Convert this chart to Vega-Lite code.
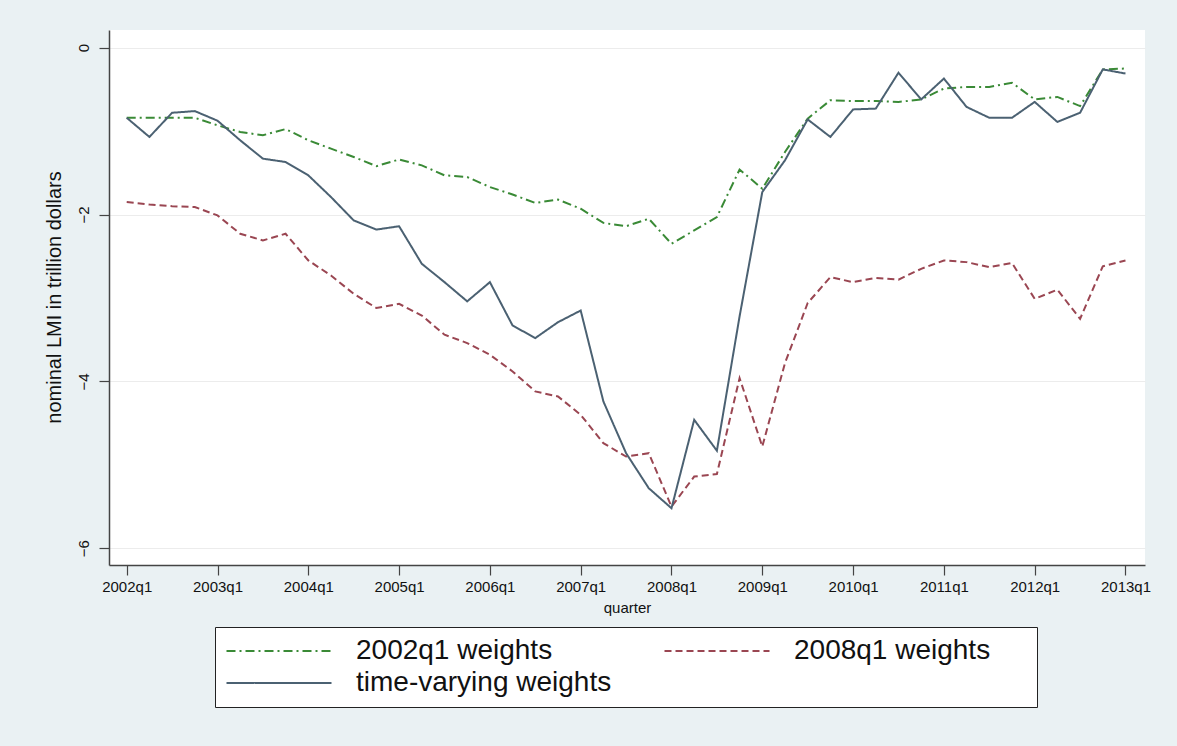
{
  "$schema": "https://vega.github.io/schema/vega-lite/v6.json",
  "autosize": {"type": "none"},
  "padding": {"left": 109, "top": 30, "right": 32, "bottom": 181},
  "width": 1036,
  "height": 535,
  "background": "#eaf1f3",
  "config": {
    "font": "Liberation Sans",
    "view": {"fill": "white", "stroke": null},
    "axis": {"domainColor": "#444444", "tickColor": "#444444", "domainWidth": 1.5, "tickWidth": 1.2, "labelColor": "#111111", "titleColor": "#111111", "labelFont": "Liberation Sans", "titleFont": "Liberation Sans", "titleFontWeight": "normal"}
  },
  "datasets": {
    "lmi": [
      {"q":0,"s":"2002q1 weights","v":-0.84},{"q":1,"s":"2002q1 weights","v":-0.84},{"q":2,"s":"2002q1 weights","v":-0.84},{"q":3,"s":"2002q1 weights","v":-0.84},{"q":4,"s":"2002q1 weights","v":-0.93},{"q":5,"s":"2002q1 weights","v":-1.01},{"q":6,"s":"2002q1 weights","v":-1.05},{"q":7,"s":"2002q1 weights","v":-0.975},{"q":8,"s":"2002q1 weights","v":-1.11},{"q":9,"s":"2002q1 weights","v":-1.21},{"q":10,"s":"2002q1 weights","v":-1.31},{"q":11,"s":"2002q1 weights","v":-1.42},{"q":12,"s":"2002q1 weights","v":-1.34},{"q":13,"s":"2002q1 weights","v":-1.41},{"q":14,"s":"2002q1 weights","v":-1.53},{"q":15,"s":"2002q1 weights","v":-1.55},{"q":16,"s":"2002q1 weights","v":-1.67},{"q":17,"s":"2002q1 weights","v":-1.76},{"q":18,"s":"2002q1 weights","v":-1.86},{"q":19,"s":"2002q1 weights","v":-1.82},{"q":20,"s":"2002q1 weights","v":-1.93},{"q":21,"s":"2002q1 weights","v":-2.10},{"q":22,"s":"2002q1 weights","v":-2.14},{"q":23,"s":"2002q1 weights","v":-2.05},{"q":24,"s":"2002q1 weights","v":-2.35},{"q":25,"s":"2002q1 weights","v":-2.19},{"q":26,"s":"2002q1 weights","v":-2.03},{"q":27,"s":"2002q1 weights","v":-1.46},{"q":28,"s":"2002q1 weights","v":-1.69},{"q":29,"s":"2002q1 weights","v":-1.25},{"q":30,"s":"2002q1 weights","v":-0.85},{"q":31,"s":"2002q1 weights","v":-0.63},{"q":32,"s":"2002q1 weights","v":-0.64},{"q":33,"s":"2002q1 weights","v":-0.64},{"q":34,"s":"2002q1 weights","v":-0.65},{"q":35,"s":"2002q1 weights","v":-0.62},{"q":36,"s":"2002q1 weights","v":-0.49},{"q":37,"s":"2002q1 weights","v":-0.47},{"q":38,"s":"2002q1 weights","v":-0.47},{"q":39,"s":"2002q1 weights","v":-0.42},{"q":40,"s":"2002q1 weights","v":-0.62},{"q":41,"s":"2002q1 weights","v":-0.59},{"q":42,"s":"2002q1 weights","v":-0.70},{"q":43,"s":"2002q1 weights","v":-0.26},{"q":44,"s":"2002q1 weights","v":-0.25},
      {"q":0,"s":"2008q1 weights","v":-1.85},{"q":1,"s":"2008q1 weights","v":-1.88},{"q":2,"s":"2008q1 weights","v":-1.90},{"q":3,"s":"2008q1 weights","v":-1.91},{"q":4,"s":"2008q1 weights","v":-2.01},{"q":5,"s":"2008q1 weights","v":-2.23},{"q":6,"s":"2008q1 weights","v":-2.31},{"q":7,"s":"2008q1 weights","v":-2.23},{"q":8,"s":"2008q1 weights","v":-2.55},{"q":9,"s":"2008q1 weights","v":-2.73},{"q":10,"s":"2008q1 weights","v":-2.95},{"q":11,"s":"2008q1 weights","v":-3.12},{"q":12,"s":"2008q1 weights","v":-3.07},{"q":13,"s":"2008q1 weights","v":-3.21},{"q":14,"s":"2008q1 weights","v":-3.44},{"q":15,"s":"2008q1 weights","v":-3.54},{"q":16,"s":"2008q1 weights","v":-3.68},{"q":17,"s":"2008q1 weights","v":-3.88},{"q":18,"s":"2008q1 weights","v":-4.12},{"q":19,"s":"2008q1 weights","v":-4.18},{"q":20,"s":"2008q1 weights","v":-4.40},{"q":21,"s":"2008q1 weights","v":-4.74},{"q":22,"s":"2008q1 weights","v":-4.90},{"q":23,"s":"2008q1 weights","v":-4.86},{"q":24,"s":"2008q1 weights","v":-5.50},{"q":25,"s":"2008q1 weights","v":-5.14},{"q":26,"s":"2008q1 weights","v":-5.11},{"q":27,"s":"2008q1 weights","v":-3.96},{"q":28,"s":"2008q1 weights","v":-4.78},{"q":29,"s":"2008q1 weights","v":-3.78},{"q":30,"s":"2008q1 weights","v":-3.06},{"q":31,"s":"2008q1 weights","v":-2.75},{"q":32,"s":"2008q1 weights","v":-2.81},{"q":33,"s":"2008q1 weights","v":-2.76},{"q":34,"s":"2008q1 weights","v":-2.78},{"q":35,"s":"2008q1 weights","v":-2.65},{"q":36,"s":"2008q1 weights","v":-2.55},{"q":37,"s":"2008q1 weights","v":-2.57},{"q":38,"s":"2008q1 weights","v":-2.63},{"q":39,"s":"2008q1 weights","v":-2.58},{"q":40,"s":"2008q1 weights","v":-3.01},{"q":41,"s":"2008q1 weights","v":-2.90},{"q":42,"s":"2008q1 weights","v":-3.25},{"q":43,"s":"2008q1 weights","v":-2.62},{"q":44,"s":"2008q1 weights","v":-2.55},
      {"q":0,"s":"time-varying weights","v":-0.84},{"q":1,"s":"time-varying weights","v":-1.07},{"q":2,"s":"time-varying weights","v":-0.78},{"q":3,"s":"time-varying weights","v":-0.76},{"q":4,"s":"time-varying weights","v":-0.875},{"q":5,"s":"time-varying weights","v":-1.11},{"q":6,"s":"time-varying weights","v":-1.33},{"q":7,"s":"time-varying weights","v":-1.37},{"q":8,"s":"time-varying weights","v":-1.53},{"q":9,"s":"time-varying weights","v":-1.79},{"q":10,"s":"time-varying weights","v":-2.07},{"q":11,"s":"time-varying weights","v":-2.18},{"q":12,"s":"time-varying weights","v":-2.14},{"q":13,"s":"time-varying weights","v":-2.59},{"q":14,"s":"time-varying weights","v":-2.81},{"q":15,"s":"time-varying weights","v":-3.04},{"q":16,"s":"time-varying weights","v":-2.81},{"q":17,"s":"time-varying weights","v":-3.33},{"q":18,"s":"time-varying weights","v":-3.48},{"q":19,"s":"time-varying weights","v":-3.29},{"q":20,"s":"time-varying weights","v":-3.15},{"q":21,"s":"time-varying weights","v":-4.24},{"q":22,"s":"time-varying weights","v":-4.86},{"q":23,"s":"time-varying weights","v":-5.28},{"q":24,"s":"time-varying weights","v":-5.52},{"q":25,"s":"time-varying weights","v":-4.46},{"q":26,"s":"time-varying weights","v":-4.83},{"q":27,"s":"time-varying weights","v":-3.22},{"q":28,"s":"time-varying weights","v":-1.73},{"q":29,"s":"time-varying weights","v":-1.35},{"q":30,"s":"time-varying weights","v":-0.86},{"q":31,"s":"time-varying weights","v":-1.07},{"q":32,"s":"time-varying weights","v":-0.74},{"q":33,"s":"time-varying weights","v":-0.73},{"q":34,"s":"time-varying weights","v":-0.30},{"q":35,"s":"time-varying weights","v":-0.62},{"q":36,"s":"time-varying weights","v":-0.37},{"q":37,"s":"time-varying weights","v":-0.71},{"q":38,"s":"time-varying weights","v":-0.84},{"q":39,"s":"time-varying weights","v":-0.84},{"q":40,"s":"time-varying weights","v":-0.65},{"q":41,"s":"time-varying weights","v":-0.89},{"q":42,"s":"time-varying weights","v":-0.78},{"q":43,"s":"time-varying weights","v":-0.26},{"q":44,"s":"time-varying weights","v":-0.31}
    ]
  },
  "data": {"name": "lmi"},
  "mark": {"type": "line", "strokeWidth": 2, "clip": true},
  "encoding": {
    "x": {
      "field": "q", "type": "quantitative",
      "scale": {"domain": [-0.78, 44.86], "nice": false, "zero": false},
      "axis": {
        "values": [0,4,8,12,16,20,24,28,32,36,40,44],
        "labelExpr": "toString(2002 + datum.value/4) + 'q1'",
        "grid": false, "tickSize": 10, "labelPadding": 4, "labelFontSize": 15,
        "title": "quarter", "titleFontSize": 15, "titleY": 42, "titleBaseline": "middle"
      }
    },
    "y": {
      "field": "v", "type": "quantitative",
      "scale": {"domain": [-6.2, 0.212], "nice": false, "zero": false},
      "axis": {
        "values": [0,-2,-4,-6], "format": "d",
        "grid": true, "gridColor": "#ececec", "gridWidth": 1.2,
        "tickSize": 10, "labelPadding": 8, "labelFontSize": 15,
        "labelAngle": -90, "labelAlign": "center", "labelBaseline": "bottom",
        "title": "nominal LMI in trillion dollars", "titleFontSize": 20,
        "titleAngle": -90, "titleAlign": "center", "titleBaseline": "middle",
        "titleX": -55, "titleY": 267
      }
    },
    "color": {
      "field": "s", "type": "nominal",
      "scale": {"domain": ["2002q1 weights", "2008q1 weights", "time-varying weights"], "range": ["#3a8a36", "#9a4652", "#4b6172"]},
      "legend": {
        "title": null, "orient": "none", "legendX": 106, "legendY": 597, "direction": "horizontal",
        "columns": 2, "columnPadding": 48, "rowPadding": 4, "gridAlign": "each",
        "symbolType": "M-4.2,0H4.2M24.44,0", "symbolSize": 625, "symbolStrokeWidth": 2, "symbolOffset": 40,
        "labelFontSize": 28, "labelColor": "#111111", "labelLimit": 0, "labelOffset": 63,
        "padding": 10, "strokeColor": "#222222", "fillColor": "white"
      }
    },
    "strokeDash": {
      "field": "s", "type": "nominal",
      "scale": {"domain": ["2002q1 weights", "2008q1 weights", "time-varying weights"], "range": [[9,4,2,4], [7,4], [1,0]]},
      "legend": null
    }
  }
}
